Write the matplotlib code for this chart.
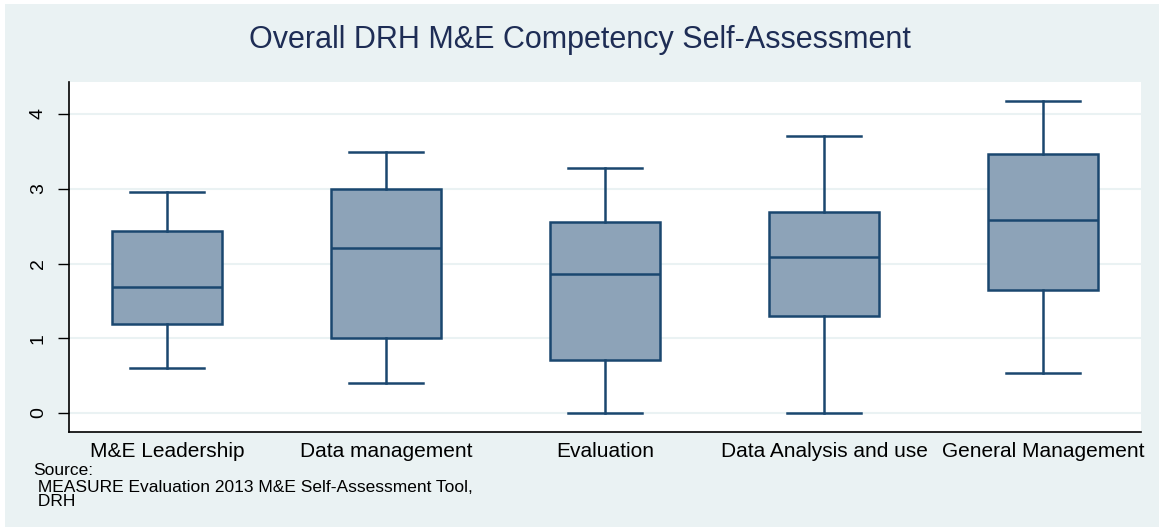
import matplotlib
matplotlib.use("Agg")
import matplotlib.pyplot as plt
from matplotlib.patches import Rectangle

categories = ["M&E Leadership", "Data management", "Evaluation",
              "Data Analysis and use", "General Management"]
whisker_low = [0.60, 0.40, 0.00, 0.00, 0.53]
q1 = [1.19, 1.00, 0.71, 1.30, 1.65]
median = [1.69, 2.21, 1.86, 2.09, 2.58]
q3 = [2.44, 3.00, 2.56, 2.69, 3.46]
whisker_high = [2.95, 3.49, 3.28, 3.70, 4.17]
yticks = [0, 1, 2, 3, 4]

title = "Overall DRH M&E Competency Self-Assessment"
note_lines = ["Source:", " MEASURE Evaluation 2013 M&E Self-Assessment Tool,", " DRH"]

plt.rcParams['font.family'] = ['Liberation Sans', 'DejaVu Sans']

bg = "#EAF2F3"
navy = "#1A476F"
fill = "#8DA3B8"
title_color = "#1E2D55"

fig = plt.figure(figsize=(11.59, 5.27), dpi=100)
fig.patch.set_facecolor("white")
fig.add_artist(Rectangle((5/1159, 0), 1 - 5/1159, 1 - 4/527, transform=fig.transFigure,
                         facecolor=bg, edgecolor="none", zorder=-10))

ax = fig.add_axes([69/1159, 1 - 432/527, (1141 - 69)/1159, (432 - 82)/527])
ax.set_facecolor("white")

stats = []
for i, c in enumerate(categories):
    stats.append(dict(label=c, whislo=whisker_low[i], q1=q1[i], med=median[i],
                      q3=q3[i], whishi=whisker_high[i], fliers=[]))

positions = list(range(1, len(categories) + 1))
lw = 1.8
ax.bxp(stats, positions=positions, widths=0.505, patch_artist=True,
       showfliers=False, capwidths=0.34,
       boxprops=dict(facecolor=fill, edgecolor=navy, linewidth=lw),
       medianprops=dict(color=navy, linewidth=lw),
       whiskerprops=dict(color=navy, linewidth=lw),
       capprops=dict(color=navy, linewidth=lw))

ax.set_xlim(0.553, 5.447)
ax.set_ylim(-0.254, 4.428)
ax.set_yticks(yticks)
ax.set_yticklabels([str(t) for t in yticks], rotation=90, va="center", fontsize=14)
ax.set_xticks(positions)
ax.set_xticklabels(categories, fontsize=15)
ax.tick_params(axis="x", length=0, pad=7)
ax.tick_params(axis="y", length=8, width=1, pad=8)
ax.grid(axis="y", color=bg, linewidth=1.5)
ax.set_axisbelow(True)
for s in ["top", "right"]:
    ax.spines[s].set_visible(False)
for s in ["left", "bottom"]:
    ax.spines[s].set_color("black")
    ax.spines[s].set_linewidth(1.2)

fig.text(0.5, 1 - 40/527, title, ha="center", va="center", fontsize=22, color=title_color)
baselines = [475, 492, 506]
for line, yb in zip(note_lines, baselines):
    fig.text(33/1159, 1 - yb/527, line, ha="left", va="baseline", fontsize=12.5,
             color="black")

fig.savefig("out.png", dpi=100, facecolor=fig.get_facecolor())
